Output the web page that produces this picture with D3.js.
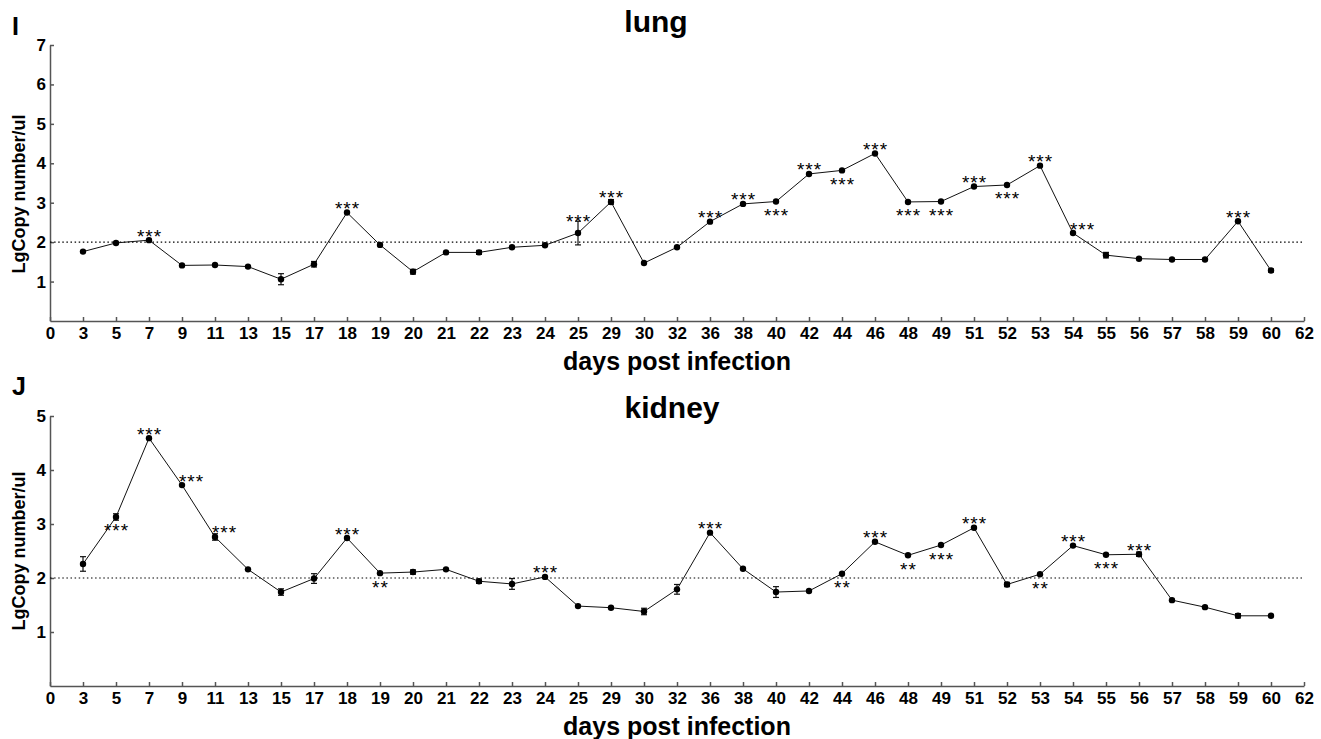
<!DOCTYPE html>
<html>
<head>
<meta charset="utf-8">
<script src="https://cdn.jsdelivr.net/npm/d3@7"></script>
<style>
  body { margin: 0; background: #fff; }
  text { font-family: "Liberation Sans", Arial, sans-serif; }
  .tick text { font-size: 17px; font-weight: bold; fill: #000; }
  .domain, .tick line { stroke: #555; stroke-width: 1.5; }
</style>
</head>
<body>
<script>
// x categories (not evenly spaced days, so a point scale)
var days = ["0","3","5","7","9","11","13","15","17","18","19","20","21","22","23","24","25",
  "29","30","32","36","38","40","42","44","46","48","49","51","52","53","54","55","56",
  "57","58","59","60","62"];
var sampleDays = days.slice(1, days.length - 1);

// lung
var lungMean = [1.76,1.98,2.05,1.41,1.42,1.38,1.06,1.44,2.75,1.93,1.25,1.74,1.74,1.87,1.92,2.23,
  3.02,1.47,1.87,2.52,2.97,3.03,3.73,3.82,4.25,3.02,3.03,3.41,3.45,3.94,2.23,1.67,1.58,1.56,1.56,2.53,1.28];
var lungErr = [0,0,0,0,0,0,0.14,0.07,0,0,0.06,0,0.05,0,0,0.30,
  0.06,0,0,0,0,0,0,0,0,0,0,0,0,0,0,0.07,0,0,0,0,0.04];
var lungStars = [
  {day:"7", s:"***", at:"up"}, {day:"18", s:"***", at:"up"}, {day:"25", s:"***", at:"up"},
  {day:"29", s:"***", at:"up"}, {day:"36", s:"***", at:"up"}, {day:"38", s:"***", at:"up"},
  {day:"40", s:"***", at:"down"}, {day:"42", s:"***", at:"up"}, {day:"44", s:"***", at:"down"},
  {day:"46", s:"***", at:"up"}, {day:"48", s:"***", at:"down"}, {day:"49", s:"***", at:"down"},
  {day:"51", s:"***", at:"up"}, {day:"52", s:"***", at:"down"}, {day:"53", s:"***", at:"up"},
  {day:"54", s:"***", at:"upright"}, {day:"59", s:"***", at:"up"}
];

// kidney
var kidneyMean = [2.26,3.13,4.59,3.72,2.76,2.16,1.74,1.99,2.74,2.09,2.11,2.16,1.94,1.89,2.02,1.48,
  1.45,1.38,1.79,2.84,2.17,1.74,1.76,2.08,2.67,2.42,2.61,2.93,1.88,2.07,2.60,2.43,2.44,1.59,1.46,1.30,1.30];
var kidneyErr = [0.135,0.06,0,0,0.06,0,0.06,0.09,0,0,0.04,0,0.04,0.10,0,0,
  0,0.06,0.09,0,0,0.10,0,0,0,0,0,0,0.04,0,0,0,0.04,0,0,0.04,0];
var kidneyStars = [
  {day:"5", s:"***", at:"down"}, {day:"7", s:"***", at:"up"}, {day:"9", s:"***", at:"upright"},
  {day:"11", s:"***", at:"upright"}, {day:"18", s:"***", at:"up"}, {day:"19", s:"**", at:"down"},
  {day:"24", s:"***", at:"up"}, {day:"36", s:"***", at:"up"}, {day:"44", s:"**", at:"down"},
  {day:"46", s:"***", at:"up"}, {day:"48", s:"**", at:"down"}, {day:"49", s:"***", at:"down"},
  {day:"51", s:"***", at:"up"}, {day:"53", s:"**", at:"down"}, {day:"54", s:"***", at:"up"},
  {day:"55", s:"***", at:"down"}, {day:"56", s:"***", at:"up"}
];

var cutoff = 2;

var svg = d3.select("body").append("svg")
    .attr("width", 1321)
    .attr("height", 739);

var x = d3.scalePoint().domain(days).range([50, 1304]);

function drawPanel(p) {
    var g = svg.append("g");
    var y = d3.scaleLinear().domain([0, p.ymax]).range([p.bottom, p.top]);

    g.append("g")
        .attr("transform", "translate(0," + p.bottom + ")")
        .call(d3.axisBottom(x).tickSize(-4).tickSizeOuter(0).tickPadding(6));
    g.append("g")
        .attr("transform", "translate(50,0)")
        .call(d3.axisLeft(y).tickValues(d3.range(1, p.ymax + 1)).tickFormat(d3.format("d"))
            .tickSize(-4).tickSizeOuter(0).tickPadding(4));

    // dotted reference line at 2
    g.append("line")
        .attr("x1", x("0")).attr("x2", x("62"))
        .attr("y1", y(cutoff)).attr("y2", y(cutoff))
        .attr("stroke", "#000")
        .attr("stroke-width", 1.2)
        .attr("stroke-dasharray", "1.5,2.6");

    var pts = sampleDays.map(function (d, i) {
        return {day: d, v: p.mean[i], e: p.err[i]};
    });

    g.append("path")
        .datum(pts)
        .attr("fill", "none")
        .attr("stroke", "#111")
        .attr("stroke-width", 1)
        .attr("d", d3.line().x(function (d) { return x(d.day); }).y(function (d) { return y(d.v); }));

    var eb = g.selectAll(".eb").data(pts.filter(function (d) { return d.e > 0; }))
        .enter().append("g").attr("stroke", "#111").attr("stroke-width", 1.2);
    eb.append("line")
        .attr("x1", function (d) { return x(d.day); })
        .attr("x2", function (d) { return x(d.day); })
        .attr("y1", function (d) { return y(d.v - d.e); })
        .attr("y2", function (d) { return y(d.v + d.e); });
    [-1, 1].forEach(function (sgn) {
        eb.append("line")
            .attr("x1", function (d) { return x(d.day) - 3; })
            .attr("x2", function (d) { return x(d.day) + 3; })
            .attr("y1", function (d) { return y(d.v + sgn * d.e); })
            .attr("y2", function (d) { return y(d.v + sgn * d.e); });
    });

    g.selectAll(".pt").data(pts).enter().append("circle")
        .attr("cx", function (d) { return x(d.day); })
        .attr("cy", function (d) { return y(d.v); })
        .attr("r", 3.2)
        .attr("fill", "#000");

    // significance stars
    g.selectAll(".star").data(p.stars).enter().append("text")
        .text(function (d) { return d.s; })
        .attr("text-anchor", "middle")
        .attr("font-size", 19)
        .attr("letter-spacing", 1)
        .attr("x", function (d) { return x(d.day) + 0.5 + (d.at === "upright" ? 9 : 0); })
        .attr("y", function (d) {
            var i = sampleDays.indexOf(d.day);
            var v = p.mean[i], e = p.err[i];
            var c;
            if (d.at === "down") {
                c = Math.max(y(v) + 10, y(v - e) + 6);
            } else {
                c = Math.min(y(v) - 8, y(v + e) - 4);
            }
            return c + 10.5;
        });

    svg.append("text").text(p.letter)
        .attr("x", 12).attr("y", p.letterY)
        .attr("font-size", 25).attr("font-weight", "bold");
    svg.append("text").text(p.title)
        .attr("x", p.titleX).attr("y", p.titleY)
        .attr("text-anchor", "middle")
        .attr("font-size", 30).attr("font-weight", "bold");
    svg.append("text").text("days post infection")
        .attr("x", 677).attr("y", p.xlabY)
        .attr("text-anchor", "middle")
        .attr("font-size", 25).attr("font-weight", "bold");
    svg.append("text").text("LgCopy number/ul")
        .attr("transform", "translate(25," + p.ylabY + ") rotate(-90)")
        .attr("text-anchor", "middle")
        .attr("font-size", 18).attr("font-weight", "bold");
}

drawPanel({top: 45, bottom: 321, ymax: 7, mean: lungMean, err: lungErr, stars: lungStars,
    letter: "I", letterY: 35, title: "lung", titleX: 656, titleY: 32, xlabY: 370, ylabY: 194});
drawPanel({top: 416, bottom: 686, ymax: 5, mean: kidneyMean, err: kidneyErr, stars: kidneyStars,
    letter: "J", letterY: 395, title: "kidney", titleX: 672, titleY: 418, xlabY: 735, ylabY: 551});
</script>
</body>
</html>
